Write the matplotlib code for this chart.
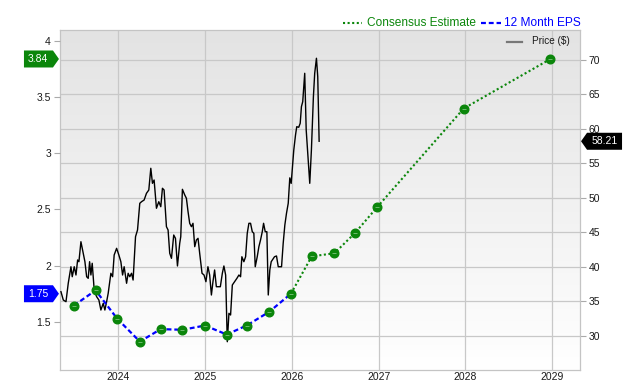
import numpy as np
import matplotlib
matplotlib.use("Agg")
import matplotlib.pyplot as plt
import matplotlib.patches as mpatches
import matplotlib.transforms as mtrans
from matplotlib.lines import Line2D
from matplotlib.colors import LinearSegmentedColormap

plt.rcParams["font.family"] = ["Liberation Sans", "DejaVu Sans"]

GRID_C  = "#c8c8c8"
TEXT_C  = "#1a1a1a"
GREEN   = "#0b860b"
BLUE    = "#0000ff"
PRICE_C = "#000000"

# price history (decimal year, USD)
price_year = [2023.341, 2023.368, 2023.399, 2023.425, 2023.456, 2023.471, 2023.494, 2023.514,
              2023.533, 2023.548, 2023.571, 2023.598, 2023.617, 2023.637, 2023.655, 2023.671,
              2023.686, 2023.701, 2023.724, 2023.752, 2023.778, 2023.801, 2023.828, 2023.847,
              2023.867, 2023.885, 2023.916, 2023.936, 2023.954, 2023.982, 2024.008, 2024.031,
              2024.051, 2024.069, 2024.097, 2024.115, 2024.134, 2024.154, 2024.172, 2024.200,
              2024.223, 2024.249, 2024.269, 2024.299, 2024.326, 2024.353, 2024.376, 2024.395,
              2024.414, 2024.441, 2024.468, 2024.491, 2024.510, 2024.529, 2024.556, 2024.575,
              2024.594, 2024.614, 2024.640, 2024.660, 2024.683, 2024.709, 2024.721, 2024.740,
              2024.767, 2024.786, 2024.805, 2024.824, 2024.844, 2024.862, 2024.882, 2024.901,
              2024.920, 2024.939, 2024.966, 2024.989, 2025.011, 2025.034, 2025.054, 2025.074,
              2025.092, 2025.111, 2025.131, 2025.149, 2025.177, 2025.200, 2025.218, 2025.238,
              2025.257, 2025.276, 2025.295, 2025.315, 2025.341, 2025.368, 2025.391, 2025.410,
              2025.425, 2025.448, 2025.468, 2025.487, 2025.506, 2025.525, 2025.545, 2025.563,
              2025.579, 2025.602, 2025.621, 2025.640, 2025.660, 2025.675, 2025.694, 2025.713,
              2025.729, 2025.747, 2025.763, 2025.782, 2025.801, 2025.824, 2025.844, 2025.862,
              2025.882, 2025.901, 2025.920, 2025.939, 2025.959, 2025.977, 2025.993, 2026.011,
              2026.023, 2026.043, 2026.057, 2026.080, 2026.097, 2026.111, 2026.126, 2026.149,
              2026.166, 2026.184, 2026.207, 2026.226, 2026.249, 2026.264, 2026.284, 2026.299,
              2026.315]
price_usd = [36.39, 35.18, 34.94, 37.61, 40.01, 38.56, 40.01, 38.81,
             40.99, 40.74, 43.64, 41.96, 40.74, 38.56, 38.33, 40.74,
             38.81, 40.51, 36.63, 35.66, 35.18, 33.73, 34.70, 33.73,
             34.94, 36.15, 39.06, 38.56, 41.71, 42.68, 41.71, 40.74,
             38.81, 40.01, 37.61, 39.06, 38.56, 39.06, 38.08, 44.37,
             45.34, 49.21, 49.44, 49.69, 50.66, 51.14, 54.29, 52.11,
             52.59, 48.49, 49.44, 48.72, 51.39, 51.14, 45.82, 45.34,
             41.96, 41.23, 44.61, 44.13, 40.12, 43.41, 44.37, 51.24,
             50.42, 49.94, 47.99, 46.31, 45.82, 46.31, 42.92, 43.89,
             44.13, 41.96, 39.06, 38.81, 37.84, 40.01, 38.81, 35.91,
             37.84, 39.54, 37.11, 37.11, 37.11, 39.06, 40.12, 38.81,
             29.13, 33.25, 33.01, 37.36, 37.84, 38.33, 38.81, 38.56,
             41.46, 40.74, 41.46, 44.86, 46.31, 46.31, 45.09, 44.86,
             40.01, 41.46, 42.92, 43.89, 45.09, 46.31, 45.09, 45.09,
             35.91, 39.54, 40.74, 41.09, 41.46, 41.57, 40.01, 40.01,
             40.01, 43.41, 46.06, 47.76, 49.21, 52.90, 52.10, 55.01,
             56.94, 59.12, 60.32, 60.24, 60.82, 63.23, 63.95, 68.07,
             59.85, 56.47, 52.11, 56.94, 64.68, 68.07, 70.25, 67.58,
             58.21]

# reported 12 month EPS
eps_year = [2023.49, 2023.74, 2023.99, 2024.25, 2024.49, 2024.74,
            2025.00, 2025.25, 2025.48, 2025.74, 2025.99]
eps_val  = [1.645, 1.78, 1.527, 1.324, 1.435, 1.429,
            1.467, 1.387, 1.467, 1.589, 1.75]

# consensus estimate
cons_year = [2025.99, 2026.23, 2026.49, 2026.73, 2026.98, 2027.98, 2028.98]
cons_val  = [1.75, 2.083, 2.11, 2.292, 2.518, 3.399, 3.84]

year_ticks  = [2024, 2025, 2026, 2027, 2028, 2029]
eps_ticks   = [1.5, 2, 2.5, 3, 3.5, 4]
price_ticks = [30, 35, 40, 45, 50, 55, 60, 65, 70]

last_eps   = 1.75
next_eps   = 3.84
last_price = 58.21

fig = plt.figure(figsize=(6.4, 3.8), dpi=100)
ax = fig.add_axes([60 / 640, 10 / 380, 520 / 640, 340 / 380])

# gradient background
grad = LinearSegmentedColormap.from_list("bg", ["#ffffff", "#e3e3e3"])
ax.imshow(np.linspace(0, 1, 256).reshape(-1, 1), cmap=grad, origin="lower",
          extent=[0, 1, 0, 1], transform=ax.transAxes, aspect="auto", zorder=0)

ax.plot(price_year, price_usd, color=PRICE_C, lw=1.0, zorder=3)

ax.set_xlim(2023.33, 2029.32)
ax.set_ylim(25.03, 74.35)
ax.set_xticks(year_ticks)
ax.set_xticklabels([str(y) for y in year_ticks])
ax.set_yticks(price_ticks)
ax.grid(True, color=GRID_C, lw=0.9, zorder=1)
ax.set_axisbelow(True)
for s in ax.spines.values():
    s.set_color("#c4c4c4")
    s.set_linewidth(0.9)

ax2 = ax.twinx()
# twinx puts the host ticks on the left, swap them back
ax.yaxis.tick_right()
ax2.yaxis.tick_left()
ax.tick_params(axis="x", length=0, pad=1.2, labelsize=7.5, labelcolor=TEXT_C)
ax.tick_params(axis="y", length=4.5, width=0.8, color="#aaaaaa", pad=1.5,
               labelsize=7.5, labelcolor=TEXT_C)

ax2.set_ylim(1.071, 4.098)
ax2.set_yticks(eps_ticks)
ax2.set_yticklabels(["%g" % t for t in eps_ticks])
ax2.tick_params(axis="y", length=4.5, width=0.8, color="#aaaaaa", pad=2,
                labelsize=7.5, labelcolor=TEXT_C)
for s in ax2.spines.values():
    s.set_visible(False)

ax2.plot(eps_year, eps_val, color=BLUE, lw=1.6, ls=(0, (2.2, 1.3)), zorder=4)
ax2.plot(cons_year, cons_val, color=GREEN, lw=1.5, ls=(0, (1, 1.2)), zorder=4)
all_x = eps_year + cons_year[1:]
all_y = eps_val + cons_val[1:]
ax2.plot(all_x, all_y, ls="none", marker="o", ms=6.2, color=GREEN, zorder=5)
ax2.plot(all_x, all_y, ls="none", marker="_", ms=3, mew=0.6, color="#7cc47c", zorder=6)


def value_tag(axis, y, label, color, side, width):
    tip = 6
    h = 17
    if side == "left":
        verts = [(0, 0), (-tip, h / 2), (-width, h / 2), (-width, -h / 2), (-tip, -h / 2)]
        ax_x, tx = -0.002, -(width + tip) / 2 - 0.5
    else:
        verts = [(0, 0), (tip, h / 2), (width, h / 2), (width, -h / 2), (tip, -h / 2)]
        ax_x, tx = 1.002, (width + tip) / 2 + 0.5
    trans = (mtrans.Affine2D().scale(1 / fig.dpi) + fig.dpi_scale_trans
             + mtrans.ScaledTranslation(ax_x, y, axis.get_yaxis_transform()))
    fig.add_artist(mpatches.Polygon(verts, closed=True, transform=trans,
                                    facecolor=color, edgecolor="none", zorder=10))
    fig.text(tx, 0, label, transform=trans, color="white", fontsize=7.5,
             ha="center", va="center", zorder=11)


value_tag(ax2, next_eps, "%.2f" % next_eps, GREEN, "left", 35)
value_tag(ax2, last_eps, "%.2f" % last_eps, BLUE, "left", 35)
value_tag(ax, last_price, "%.2f" % last_price, "black", "right", 41)

# top legend
ly = 1 - 23 / 380
fig.add_artist(Line2D([343 / 640, 362 / 640], [ly, ly], transform=fig.transFigure,
                      color=GREEN, lw=1.5, ls=(0, (1, 1.2))))
fig.text(367 / 640, ly, "Consensus Estimate", color=GREEN, fontsize=8.6,
         ha="left", va="center")
fig.add_artist(Line2D([481 / 640, 501 / 640], [ly, ly], transform=fig.transFigure,
                      color=BLUE, lw=1.6, ls=(0, (2.2, 1.3))))
fig.text(504 / 640, ly, "12 Month EPS", color=BLUE, fontsize=8.6,
         ha="left", va="center")

# price legend inside plot
py = 1 - 41.5 / 380
fig.add_artist(Line2D([507 / 640, 522 / 640], [py, py], transform=fig.transFigure,
                      color="#777777", lw=1.6))
fig.text(532 / 640, py, "Price ($)", color=TEXT_C, fontsize=7.2, ha="left", va="center")

fig.savefig("out.png", dpi=100)
